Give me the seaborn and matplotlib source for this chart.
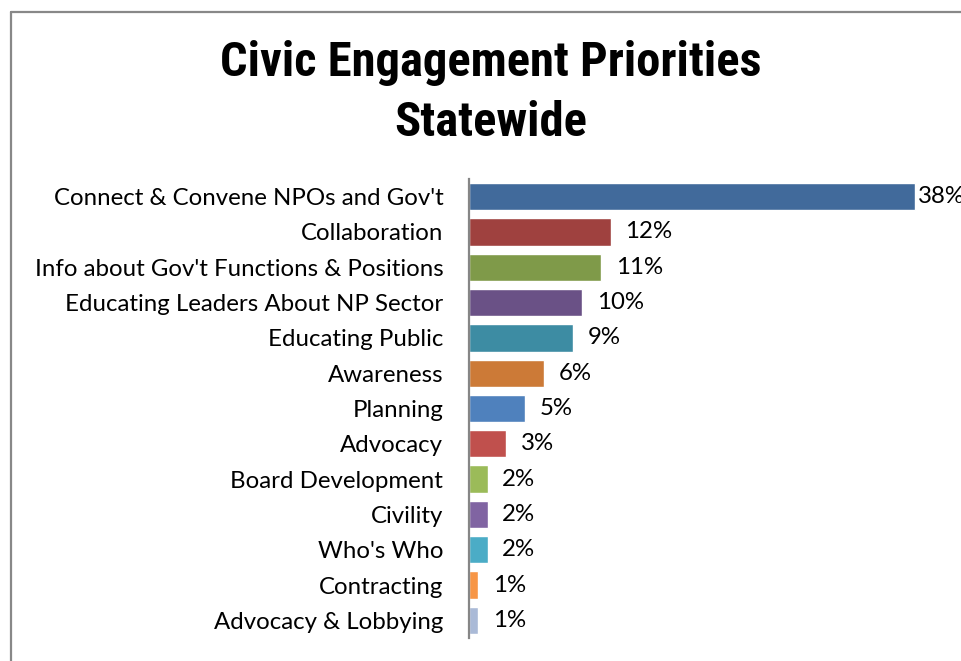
import matplotlib
matplotlib.use("Agg")
import matplotlib.pyplot as plt
from matplotlib.lines import Line2D
import seaborn as sns
import pandas as pd

# Survey results: share of responses per civic engagement priority (%)
categories = [
    "Connect & Convene NPOs and Gov't",
    "Collaboration",
    "Info about Gov't Functions & Positions",
    "Educating Leaders About NP Sector",
    "Educating Public",
    "Awareness",
    "Planning",
    "Advocacy",
    "Board Development",
    "Civility",
    "Who's Who",
    "Contracting",
    "Advocacy & Lobbying",
]
shares = [38.1, 12.1, 11.3, 9.7, 8.9, 6.4, 4.8, 3.2, 1.6, 1.6, 1.6, 0.8, 0.8]
bar_colors = [
    "#416a9b", "#9f413f", "#7f9a49", "#6a5186", "#3d8ca3", "#cc7a37",
    "#4f81bd", "#c0504d", "#9bbb59", "#8064a2", "#4bacc6", "#f79646",
    "#aabad7",
]
title_lines = ["Civic Engagement Priorities", "Statewide"]

df = pd.DataFrame({"category": categories, "share": shares})

sns.set_style("white")
plt.rcParams["font.family"] = ["Lato", "DejaVu Sans"]

W, H = 961, 661
fig = plt.figure(figsize=(W / 100, H / 100), dpi=100)

# plot area in pixel terms
left_px, top_px, bottom_px = 469, 179, 638
xmax = 40.0
px_per_unit = 11.7
ax = fig.add_axes([left_px / W, 1 - bottom_px / H,
                   xmax * px_per_unit / W, (bottom_px - top_px) / H])

sns.barplot(data=df, y="category", x="share", hue="category",
            palette=bar_colors, orient="h", width=0.775, legend=False,
            saturation=1, ax=ax)

ax.set_xlim(0, xmax)
ax.set_ylim(len(categories) - 0.5, -0.5)
ax.set_xlabel("")
ax.set_ylabel("")
ax.set_xticks([])
for side in ("top", "right", "bottom"):
    ax.spines[side].set_visible(False)
ax.spines["left"].set_color("#868686")
ax.spines["left"].set_linewidth(1.6)
ax.tick_params(axis="y", length=0, pad=18.5, labelsize=17.3, labelcolor="black")

# value labels at the end of each bar
for i, v in enumerate(shares):
    off = 2.2 if i == 0 else 10.5
    ax.annotate(f"{v:.0f}%", xy=(v, i), xytext=(off, 0),
                textcoords="offset points", ha="left", va="center",
                fontsize=17.3, color="black", annotation_clip=False)

# chart title
title_font = ["Roboto Condensed", "DejaVu Sans"]
for line, base_px in zip(title_lines, (76, 136)):
    fig.text(491 / W, 1 - base_px / H, line, ha="center", va="baseline",
             fontsize=35, fontweight="black", fontstretch="condensed",
             family=title_font, color="black")

# chart-area border (left and top edges)
frame_x = 11 / W
frame_y = 1 - 11.5 / H
fig.add_artist(Line2D([frame_x, frame_x], [-0.01, frame_y], color="#888888",
                      linewidth=1.6, transform=fig.transFigure))
fig.add_artist(Line2D([frame_x, 1.01], [frame_y, frame_y], color="#888888",
                      linewidth=1.6, transform=fig.transFigure))

fig.savefig("out.png", dpi=100)
